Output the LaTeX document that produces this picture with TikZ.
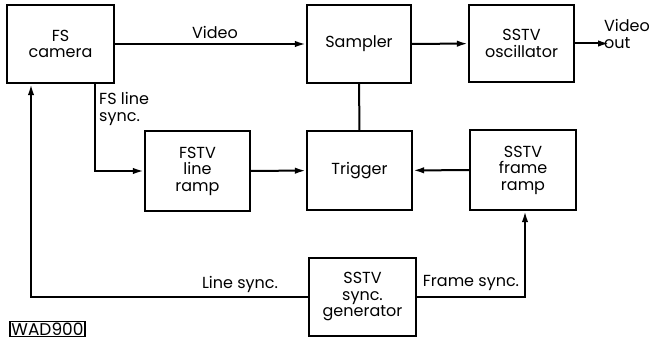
\documentclass[tikz,border=0pt]{standalone}
\usepackage{fontspec}
\setmainfont{Poppins}
\usetikzlibrary{arrows.meta}

\tikzset{
	blk/.style={draw, line width=2.4pt, minimum width=105pt, minimum height=78pt, align=center, inner sep=2pt},
	arr/.style={line width=2pt, -{Latex[length=11pt,width=6.5pt]}},
	wire/.style={line width=2pt},
	lbl/.style={inner sep=1pt, align=left}
}

\begin{document}
\begin{tikzpicture}[x=1pt, y=-1pt, font=\fontsize{16}{16.5}\selectfont]
			\useasboundingbox (0,0) rectangle (650,342);
			
			% Fixed coordinates
			\node[blk, minimum width=107pt] (cam) at (60.5,44) {FS\\camera};
			\node[blk, minimum width=104pt] (samp) at (359,44) {Sampler};
			\node[blk, minimum height=77pt] (osc) at (521.5,43.5) {SSTV\\oscillator};
			\node[blk, minimum height=80pt] (fstv) at (197.5,171) {FSTV\\line\\ramp};
			\node[blk, minimum height=79pt] (trig) at (359.5,170.5) {Trigger};
			\node[blk, minimum width=106pt, minimum height=80pt] (frame) at (523,170) {SSTV\\frame\\ramp};
			\node[blk, minimum width=107pt] (gen) at (362.5,297) {SSTV\\sync.\\generator};
			\coordinate (out) at (609,43.5);
			
			% Signal paths
			\draw[arr] (cam) -- (samp);
			\draw[arr] (samp) -- (osc);
			\draw[arr] (osc) -- (out);
			\draw[wire] (samp) -- (trig);
			\draw[arr] ([xshift=34.5pt]cam.south) |- (fstv.west);
			\draw[arr] (fstv) -- (trig);
			\draw[arr] (frame) -- (trig);
			\draw[arr] (gen.west) -| ([xshift=-29.5pt]cam.south);
			\draw[arr] (gen.east) -| ([xshift=2pt]frame.south);
			
			% Labels
			\node[lbl] (vid) at (215,32) {Video};
			\node[lbl] (vout) at (627,34) {Video\\out};
			\node[lbl, anchor=west] (fsl) at (98,109) {FS line\\sync.};
			\node[lbl] (lsync) at (240,284) {Line sync.};
			\node[lbl] (fsync) at (471,283) {Frame sync.};
			\node[draw, line width=1.2pt, inner sep=1.5pt, font=\fontsize{17}{17}\selectfont] (tag) at (47.5,329) {WAD900};
		\end{tikzpicture}
\end{document}
